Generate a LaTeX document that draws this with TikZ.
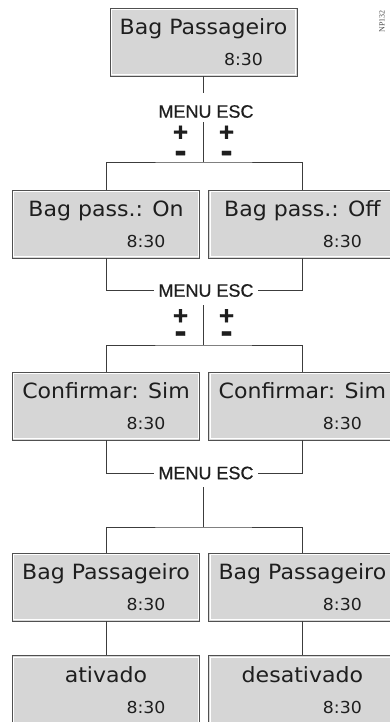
\documentclass[tikz,border=0pt]{standalone}
\usepackage{fontspec}
\newfontfamily\lcdfont[FakeStretch=1.05]{DejaVu Sans}
\newfontfamily\keyfont[FakeBold=0.6]{Liberation Sans}
\newfontfamily\refnofont{Liberation Serif}
\usetikzlibrary{positioning, calc}
\definecolor{scrfill}{RGB}{214,214,214}
\definecolor{scrline}{RGB}{80,80,80}
\definecolor{wire}{RGB}{60,60,60}
\definecolor{ink}{RGB}{30,30,30}
\newcommand{\clk}[1]{{\fontsize{16.5}{31}\selectfont\hspace*{80pt}#1}}

\begin{document}
\begin{tikzpicture}[
  x=1pt, y=-1pt,
  scr/.style={draw=scrline, fill=scrfill, line width=0.9pt, text=ink,
              minimum width=187pt, minimum height=68pt, inner sep=0pt, align=center,
              font=\lcdfont\fontsize{21}{31}\selectfont,
              path picture={\draw[white, line width=0.9pt]
                ([shift={(1.4pt,-1.4pt)}]path picture bounding box.north west) rectangle
                ([shift={(-1.4pt,1.4pt)}]path picture bounding box.south east);}},
  key/.style={font=\keyfont\fontsize{18}{18}\selectfont, text=ink, inner ysep=0pt, inner xsep=4pt},
  pm/.style={font=\keyfont\bfseries\fontsize{26}{21.5}\selectfont, text=ink, inner sep=0pt, align=center},
  link/.style={draw=wire, line width=0.8pt},
]
\useasboundingbox (0,0) rectangle (389,722);

% screens
\node[scr] (top) at (203.5,42) {Bag Passageiro\\\clk{8:30}};
\node[scr] (on) at (106,224) {Bag pass.: On\\\clk{8:30}};
\node[scr, right=8.5pt of on] (off) {Bag pass.: Off\\\clk{8:30}};
\node[scr] (conf1) at (106,406) {Confirmar: Sim\\\clk{8:30}};
\node[scr, right=8.5pt of conf1] (conf2) {Confirmar: Sim\\\clk{8:30}};
\node[scr] (bp1) at (106,587) {Bag Passageiro\\\clk{8:30}};
\node[scr, right=8.5pt of bp1] (bp2) {Bag Passageiro\\\clk{8:30}};
\node[scr, below=34pt of bp1] (act) {ativado\\\clk{8:30}};
\node[scr, right=8.5pt of act] (deact) {desativado\\\clk{8:30}};

% keys
\node[key] (mk1) at (206,111.5) {MENU ESC};
\node[pm] (pm1a) at (180.5,144) {+\\{\fontsize{36}{21.5}\selectfont -}};
\node[pm] (pm1b) at (226.5,144) {+\\{\fontsize{36}{21.5}\selectfont -}};
\node[key] (mk2) at (206,290.5) {MENU ESC};
\node[pm] (pm2a) at (180.5,326) {+\\[-3pt]{\fontsize{36}{21.5}\selectfont -}};
\node[pm] (pm2b) at (226.5,326) {+\\[-3pt]{\fontsize{36}{21.5}\selectfont -}};
\node[key] (mk3) at (206,473) {MENU ESC};

\coordinate (sp1) at (203.5,162);
\coordinate (sp2) at (203,345);
\coordinate (sp3) at (203,527);

\draw[link] (top) -- ([yshift=12pt]sp1 |- mk1.north);
\draw[link] ([yshift=-4pt]sp1 |- mk1.south) -- (sp1);
\draw[link] (on.north) |- (sp1) -| (off.north);

\draw[link] (on.south) |- (mk2.west);
\draw[link] (off.south) |- (mk2.east);
\draw[link] ([yshift=-8pt]sp2 |- mk2.south) -- (sp2);
\draw[link] (conf1.north) |- (sp2) -| (conf2.north);

\draw[link] (conf1.south) |- (mk3.west);
\draw[link] (conf2.south) |- (mk3.east);
\draw[link] ([yshift=-7.5pt]sp3 |- mk3.south) -- (sp3);
\draw[link] (bp1.north) |- (sp3) -| (bp2.north);

\draw[link] (bp1) -- (act);
\draw[link] (bp2) -- (deact);

\node[font=\refnofont\fontsize{8}{8}\selectfont, text=black!70, rotate=90] (np) at (382,21.5) {NP132};
\end{tikzpicture}
\end{document}
